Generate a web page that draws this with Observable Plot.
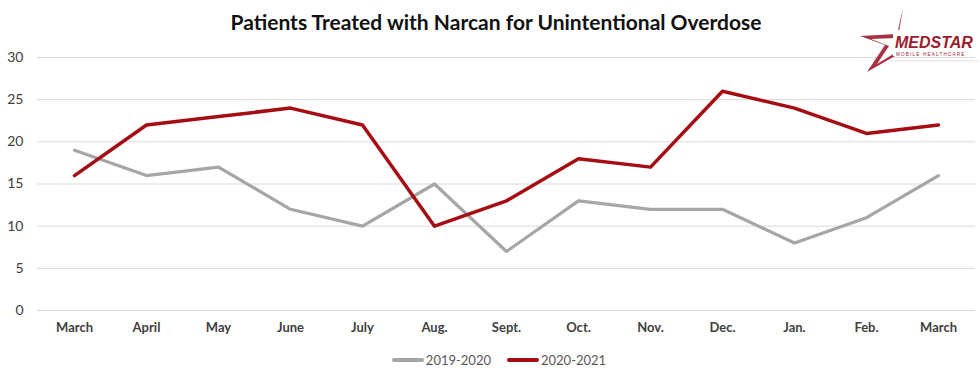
<!DOCTYPE html>
<html><head><meta charset="utf-8">
<script src="https://cdn.jsdelivr.net/npm/d3@7"></script>
<script src="https://cdn.jsdelivr.net/npm/@observablehq/plot@0.6"></script>
<style>
body{margin:0;background:#fff;font-family:Lato,"Open Sans",sans-serif;}
#wrap{position:relative;width:980px;height:375px;overflow:hidden;}
#title{position:absolute;left:0;width:992px;top:9px;text-align:center;font-size:21px;font-weight:700;color:#111;}
#chart{position:absolute;left:0;top:40px;}
#legend{position:absolute;left:9px;width:980px;top:349px;text-align:center;font-size:13px;color:#595959;}
.li{display:inline-flex;align-items:center;margin:0 8px;}
.sw{display:inline-block;width:32px;height:4px;border-radius:2px;margin-right:2px;}
#logo{position:absolute;left:855px;top:4px;}
</style></head>
<body><div id="wrap">
<div id="title">Patients Treated with Narcan for Unintentional Overdose</div>
<div id="chart"></div>
<div id="legend"></div>
<svg id="logo" width="125" height="72" viewBox="0 0 125 72">
  <path d="M48 4 L42 30 L5 32 L30 41 L12 68 L40 52 Z" fill="#9c1c2e" opacity="0.9"/>
  <path d="M46 12 L42 34 L16 35 L34 42 L22 60 L40 49 Z" fill="#fff"/>
  <rect x="38" y="26" width="84" height="26" fill="#fff"/>
  <text x="40" y="44" font-family="Liberation Sans,Arial" font-style="italic" font-weight="700" font-size="16" fill="#9c1c2e">MEDSTAR</text>
  <text x="41" y="52" font-family="Liberation Sans,Arial" font-size="4.6" letter-spacing="1.2" fill="#9c1c2e">MOBILE HEALTHCARE</text>
  <line x1="36" y1="57" x2="124" y2="57" stroke="#ccc" stroke-width="0.6"/>
</svg>
</div>
<script>
const months = ["March","April","May","June","July","Aug.","Sept.","Oct.","Nov.","Dec.","Jan.","Feb.","March"];
const series1Name = "2019-2020";
const series2Name = "2020-2021";
const series1 = [19,16,17,12,10,15,7,13,12,12,8,11,16];
const series2 = [16,22,23,24,22,10,13,18,17,26,24,21,22];
const yTicks = [0,5,10,15,20,25,30];
const colors = {"2019-2020":"#a6a6a6","2020-2021":"#a50d12"};

const data = [
  ...series1.map((v,i)=>({i, v, s:series1Name})),
  ...series2.map((v,i)=>({i, v, s:series2Name}))
];

const plot = Plot.plot({
  width: 980, height: 305,
  marginLeft: 37, marginRight: 5, marginTop: 17, marginBottom: 35,
  style:{fontFamily:"Lato, 'Open Sans', sans-serif", fontSize:"13px", color:"#404040", background:"#fff"},
  x:{type:"point", domain:months.map((_,i)=>i), padding:0.5, tickFormat:i=>months[i], tickSize:0, tickPadding:12, label:null},
  y:{domain:[0,30], ticks:yTicks, tickSize:0, tickPadding:14, label:null},
  marks:[
    Plot.ruleY(yTicks,{stroke:"#d9d9d9", strokeWidth:1}),
    Plot.line(data.filter(d=>d.s===series1Name),{x:"i",y:"v",stroke:colors[series1Name],strokeWidth:3.2,strokeLinejoin:"round",strokeLinecap:"round"}),
    Plot.line(data.filter(d=>d.s===series2Name),{x:"i",y:"v",stroke:colors[series2Name],strokeWidth:3.5,strokeLinejoin:"round",strokeLinecap:"round"})
  ]
});
plot.querySelectorAll("[aria-label='x-axis tick label'] text").forEach(t=>t.setAttribute("font-weight","700"));
plot.querySelectorAll("[aria-label='y-axis tick label'] text").forEach(t=>t.setAttribute("font-size","14"));
document.getElementById("chart").appendChild(plot);

const lg = document.getElementById("legend");
[series1Name, series2Name].forEach(n=>{
  const s=document.createElement("span"); s.className="li";
  s.innerHTML=`<span class="sw" style="background:${colors[n]}"></span>${n}`;
  lg.appendChild(s);
});
</script>
</body></html>
